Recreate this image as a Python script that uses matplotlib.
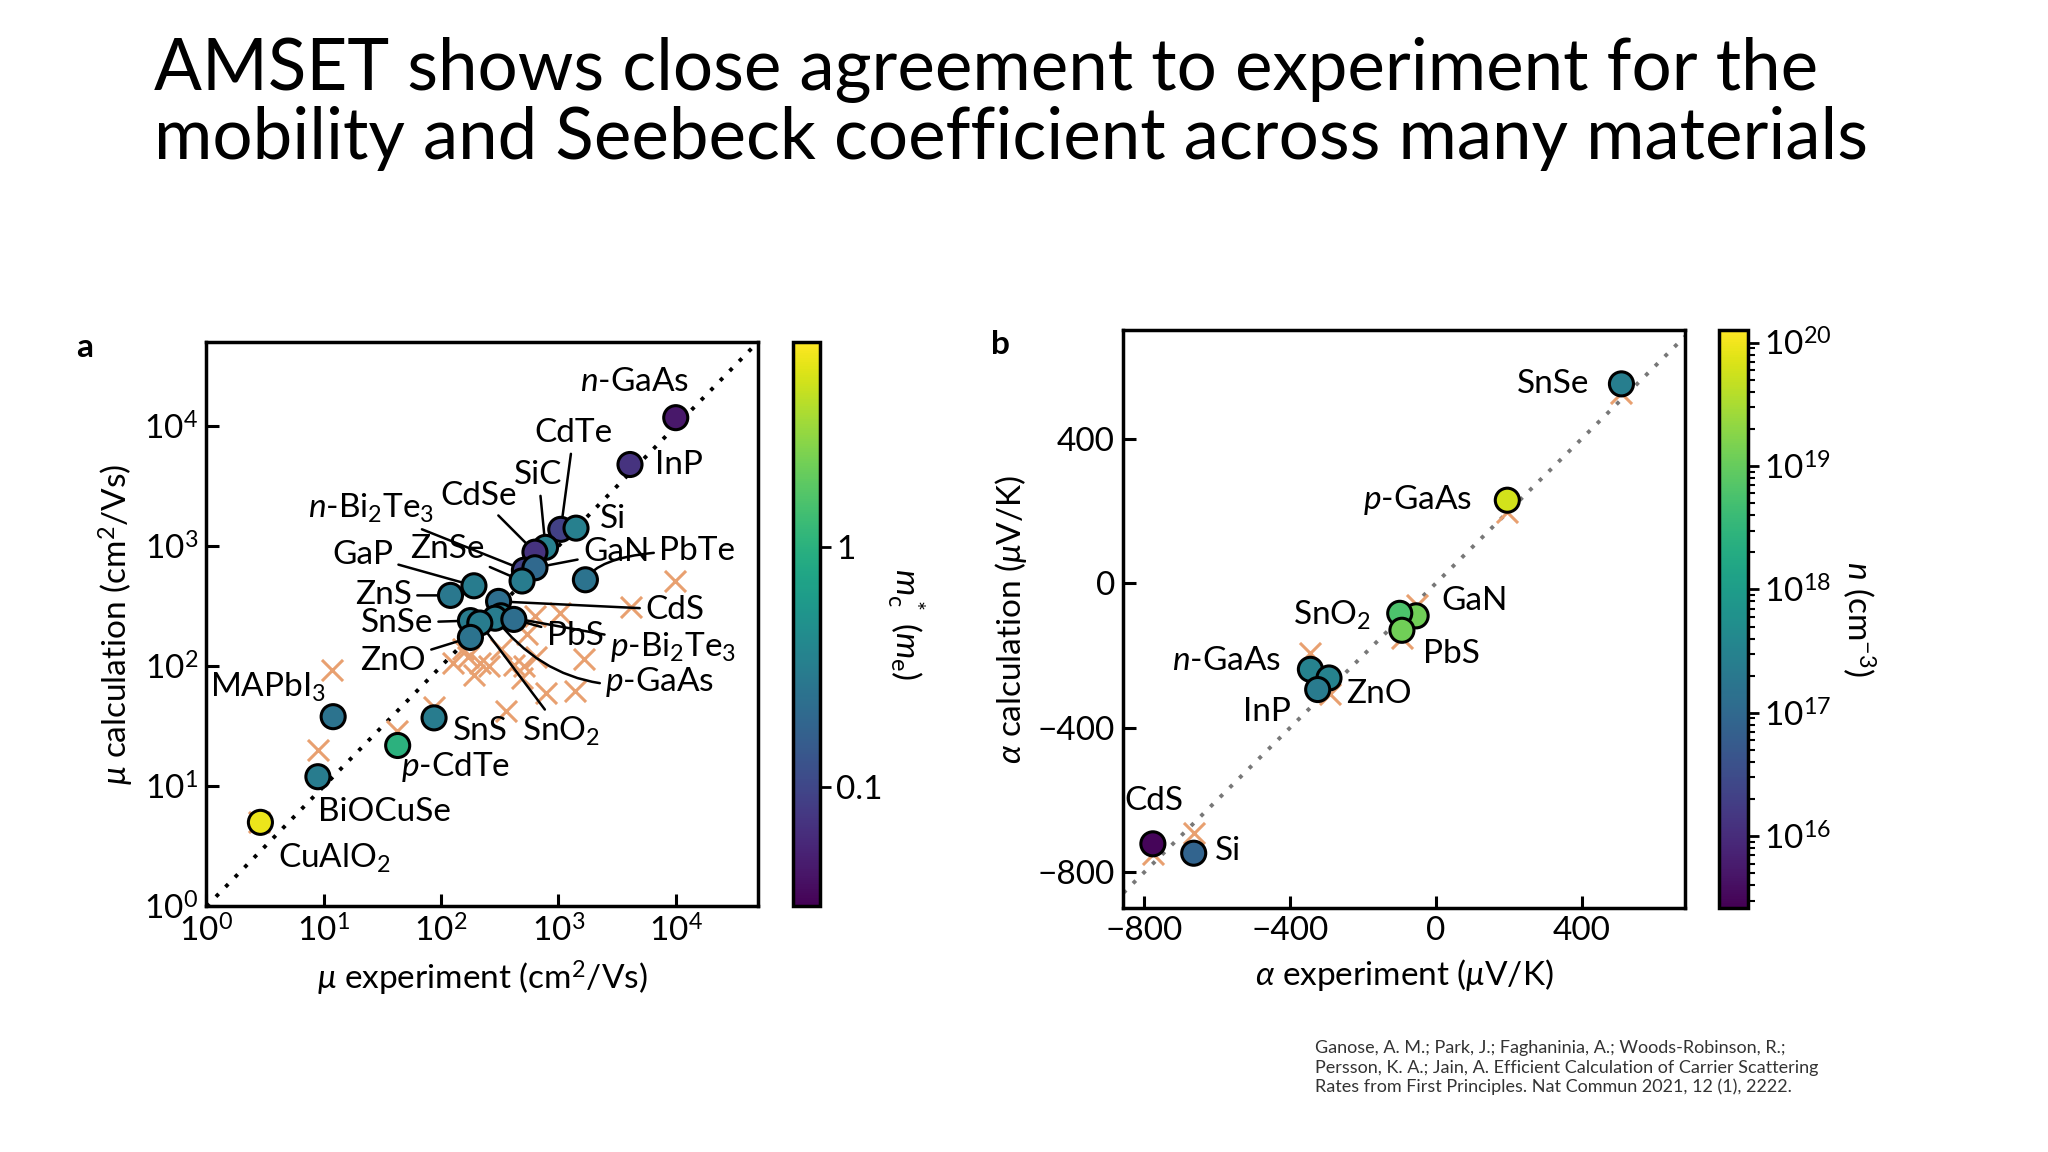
import numpy as np
import matplotlib
matplotlib.use("Agg")
import matplotlib.pyplot as plt
from matplotlib.colors import LogNorm

plt.rcParams['font.family'] = ['Lato', 'DejaVu Sans']
plt.rcParams['mathtext.fontset'] = 'custom'
plt.rcParams['mathtext.rm'] = 'Lato'
plt.rcParams['mathtext.it'] = 'Lato:italic'

# ---------- Panel a data (log10 values) ----------
a_names = ["n-GaAs", "InP", "CdTe", "Si", "SiC", "CdSe", "n-Bi2Te3", "GaN", "ZnSe", "GaP",
           "ZnS", "PbTe", "CdS", "SnSe", "p-Bi2Te3", "p-GaAs", "PbS", "SnO2", "ZnO",
           "MAPbI3", "p-CdTe", "SnS", "BiOCuSe", "CuAlO2"]
a_exp_log = [4.00, 3.61, 3.02, 3.15, 2.89, 2.80, 2.71, 2.80, 2.69, 2.28,
             2.08, 3.23, 2.49, 2.25, 2.51, 2.46, 2.62, 2.33, 2.25,
             1.08, 1.63, 1.94, 0.95, 0.46]
a_calc_log = [4.07, 3.68, 3.14, 3.15, 2.99, 2.95, 2.80, 2.82, 2.71, 2.67,
              2.59, 2.72, 2.54, 2.38, 2.42, 2.40, 2.39, 2.36, 2.24,
              1.58, 1.34, 1.57, 1.08, 0.70]
a_mass = [0.045, 0.07, 0.09, 0.33, 0.33, 0.07, 0.09, 0.2, 0.3, 0.3,
          0.28, 0.25, 0.22, 0.3, 0.3, 0.3, 0.22, 0.3, 0.25,
          0.25, 1.0, 0.3, 0.3, 6.0]
a_cross_x = [3.99, 3.62, 3.22, 3.14, 2.89, 3.01, 2.80, 2.73, 2.81, 2.71, 2.69, 2.62, 2.55,
             2.51, 2.33, 2.28, 2.23, 2.10, 2.19, 1.94, 1.62, 1.07, 0.95, 0.45, 2.41]
a_cross_y = [2.71, 2.49, 2.06, 1.79, 1.78, 2.44, 2.42, 2.27, 2.08, 2.00, 1.90, 2.01, 1.63,
             2.14, 2.03, 1.93, 2.08, 2.03, 2.14, 1.66, 1.46, 1.97, 1.30, 0.70, 2.00]
a_labels = {
    "n-GaAs": ("$\\it{n}$-GaAs", 3.65, 4.37, 'center', False),
    "InP": ("InP", 3.82, 3.68, 'left', False),
    "CdTe": ("CdTe", 3.13, 3.94, 'center', True),
    "SiC": ("SiC", 2.83, 3.59, 'center', True),
    "CdSe": ("CdSe", 2.32, 3.42, 'center', True),
    "n-Bi2Te3": ("$\\it{n}$-Bi$_2$Te$_3$", 1.94, 3.31, 'right', True),
    "Si": ("Si", 3.35, 3.23, 'left', False),
    "GaN": ("GaN", 3.21, 2.95, 'left', True),
    "PbTe": ("PbTe", 3.86, 2.96, 'left', True),
    "GaP": ("GaP", 1.59, 2.93, 'right', True),
    "ZnSe": ("ZnSe", 2.37, 2.98, 'right', True),
    "ZnS": ("ZnS", 1.75, 2.59, 'right', True),
    "CdS": ("CdS", 3.74, 2.47, 'left', True),
    "SnSe": ("SnSe", 1.93, 2.36, 'right', True),
    "PbS": ("PbS", 2.90, 2.25, 'left', True),
    "p-Bi2Te3": ("$\\it{p}$-Bi$_2$Te$_3$", 3.44, 2.16, 'left', True),
    "p-GaAs": ("$\\it{p}$-GaAs", 3.40, 1.87, 'left', True),
    "ZnO": ("ZnO", 1.87, 2.04, 'right', True),
    "SnO2": ("SnO$_2$", 2.69, 1.46, 'left', True),
    "SnS": ("SnS", 2.10, 1.46, 'left', False),
    "MAPbI3": ("MAPbI$_3$", 1.02, 1.82, 'right', False),
    "p-CdTe": ("$\\it{p}$-CdTe", 1.66, 1.16, 'left', False),
    "BiOCuSe": ("BiOCuSe", 0.95, 0.79, 'left', False),
    "CuAlO2": ("CuAlO$_2$", 0.61, 0.40, 'left', False),
}

# ---------- Panel b data ----------
b_names = ["SnSe", "p-GaAs", "GaN", "SnO2", "PbS", "n-GaAs", "ZnO", "InP", "CdS", "Si"]
b_exp = [509, 196, -54, -99, -93, -344, -293, -324, -776, -664]
b_calc = [552, 230, -90, -83, -130, -238, -262, -294, -721, -747]
b_n = [2.5e17, 6e19, 1.2e19, 6e18, 1.2e19, 3e17, 3e17, 2.2e17, 3e15, 8e16]
b_cross_x = [509, 196, -52, -93, -344, -290, -664, -776]
b_cross_y = [526, 198, -61, -151, -194, -305, -691, -749]
b_labels = [("SnSe", 420, 552, 'right'), ("$\\it{p}$-GaAs", 100, 230, 'right'),
            ("GaN", 15, -50, 'left'), ("SnO$_2$", -178, -88, 'right'),
            ("PbS", -35, -195, 'left'), ("$\\it{n}$-GaAs", -425, -215, 'right'),
            ("ZnO", -245, -305, 'left'), ("InP", -398, -355, 'right'),
            ("CdS", -773, -603, 'center'), ("Si", -605, -740, 'left')]

cross_col = '#E8A070'
FS = 24

fig = plt.figure(figsize=(20.48, 11.52), dpi=100)
fig.text(0.0753, 0.968, "AMSET shows close agreement to experiment for the\nmobility and Seebeck coefficient across many materials",
         fontsize=51, va='top', ha='left', linespacing=1.05)
fig.text(0.642, 0.097, "Ganose, A. M.; Park, J.; Faghaninia, A.; Woods-Robinson, R.;\nPersson, K. A.; Jain, A. Efficient Calculation of Carrier Scattering\nRates from First Principles. Nat Commun 2021, 12 (1), 2222.",
         fontsize=13, va='top', ha='left', linespacing=1.25, color='#333333')

def style(ax):
    for s in ax.spines.values():
        s.set_linewidth(2.5)
    ax.tick_params(which='major', direction='in', length=9, width=2.2, labelsize=FS, pad=6)
    ax.tick_params(which='minor', length=0)

# Panel a
axa = fig.add_axes([0.1008, 0.2132, 0.2692, 0.4898])
cax_a = fig.add_axes([0.387, 0.2132, 0.0134, 0.4898])
lim = [1, 5e4]
axa.plot(lim, lim, ls=(0, (1, 2.5)), color='k', lw=2.8, zorder=1)
axa.scatter(10**np.array(a_cross_x), 10**np.array(a_cross_y), marker='x', s=230,
            color=cross_col, linewidths=2.2, zorder=2)
norm_a = LogNorm(0.032, 7.1)
sc = axa.scatter(10**np.array(a_exp_log), 10**np.array(a_calc_log), c=a_mass, cmap='viridis',
                 norm=norm_a, s=300, edgecolors='k', linewidths=2.2, zorder=4)
for i, n in enumerate(a_names):
    lab, tx, ty, ha, line = a_labels[n]
    px, py = 10**a_exp_log[i], 10**a_calc_log[i]
    if line:
        cs = 'arc3'
        if n in ("PbTe",):
            cs = 'angle3,angleA=0,angleB=60'
        if n in ("p-GaAs",):
            cs = 'arc3,rad=-0.3'
        axa.annotate(lab, xy=(px, py), xytext=(10**tx, 10**ty), ha=ha, va='center', fontsize=FS,
                     arrowprops=dict(arrowstyle='-', lw=1.8, color='k', shrinkA=2, shrinkB=0,
                                     connectionstyle=cs), zorder=3)
    else:
        axa.text(10**tx, 10**ty, lab, ha=ha, va='center', fontsize=FS, zorder=5)
axa.set_xscale('log'); axa.set_yscale('log')
axa.set_xlim(lim); axa.set_ylim(lim)
axa.set_xticks([1, 10, 100, 1e3, 1e4]); axa.set_yticks([1, 10, 100, 1e3, 1e4])
style(axa)
axa.set_xlabel("$\\mu$ experiment (cm$^2$/Vs)", fontsize=FS, labelpad=8)
axa.set_ylabel("$\\mu$ calculation (cm$^2$/Vs)", fontsize=FS, labelpad=6)
cb = fig.colorbar(sc, cax=cax_a)
cb.set_ticks([0.1, 1]); cb.set_ticklabels(["0.1", "1"])
cb.ax.tick_params(labelsize=FS, width=2, length=8)
cb.ax.tick_params(which='minor', length=0)
cb.outline.set_linewidth(2.5)
cb.set_label("$m_\\mathrm{c}^*$ ($m_\\mathrm{e}$)", rotation=270, fontsize=FS, labelpad=32)
fig.text(0.037, 0.69, "a", fontsize=24, fontweight='bold')

# Panel b
axb = fig.add_axes([0.5485, 0.212, 0.2742, 0.5012])
cax_b = fig.add_axes([0.8393, 0.212, 0.014, 0.5012])
blim = [-898, 700]
axb.plot([-857, 683], [-857, 683], ls=(0, (1, 2.5)), color='#777777', lw=2.8, zorder=1)
axb.scatter(b_cross_x, b_cross_y, marker='x', s=230, color=cross_col, linewidths=2.2, zorder=2)
norm_b = LogNorm(10**15.42, 10**20.1)
sb = axb.scatter(b_exp, b_calc, c=b_n, cmap='viridis', norm=norm_b, s=300,
                 edgecolors='k', linewidths=2.2, zorder=4)
for lab, tx, ty, ha in b_labels:
    axb.text(tx, ty, lab, ha=ha, va='center', fontsize=FS)
axb.set_xlim(-857, 683); axb.set_ylim(blim)
axb.set_xticks([-800, -400, 0, 400]); axb.set_yticks([-800, -400, 0, 400])
axb.set_xticklabels(["\u2212800", "\u2212400", "0", "400"])
axb.set_yticklabels(["\u2212800", "\u2212400", "0", "400"])
style(axb)
axb.set_xlabel("$\\alpha$ experiment ($\\mu$V/K)", fontsize=FS, labelpad=8)
axb.set_ylabel("$\\alpha$ calculation ($\\mu$V/K)", fontsize=FS, labelpad=6)
cb2 = fig.colorbar(sb, cax=cax_b)
cb2.set_ticks([1e16, 1e17, 1e18, 1e19, 1e20])
cb2.ax.tick_params(labelsize=FS, width=2, length=8)
cb2.ax.tick_params(which='minor', width=1.5, length=5)
cb2.outline.set_linewidth(2.5)
cb2.set_label("$n$ (cm$^{-3}$)", rotation=270, fontsize=FS, labelpad=34)
fig.text(0.484, 0.693, "b", fontsize=24, fontweight='bold')

fig.savefig("out.png", dpi=100)
